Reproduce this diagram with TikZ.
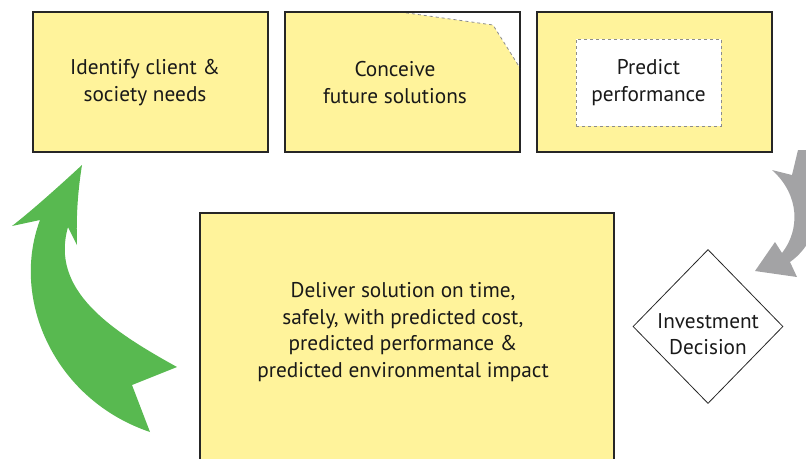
\documentclass[tikz,border=0pt]{standalone}
\usepackage{fontspec}
\setmainfont{PT Sans}
\usepackage{tikz}
\usetikzlibrary{
	arrows.meta,
	positioning,
	shapes.geometric
}
\usepackage{xcolor}
\definecolor{boxyellow}{RGB}{255,243,155}
\definecolor{loopgreen}{RGB}{88,185,80}
\definecolor{loopgray}{RGB}{163,163,165}

\begin{document}
\begin{tikzpicture}[
			x=1pt,y=-1pt,
			box/.style={rectangle,draw=black!85,line width=1.4pt,fill=boxyellow,minimum width=235pt,minimum height=140pt},
			txt/.style={align=center,font=\fontsize{21.3}{26.5}\selectfont,text=black!90},
			innerbox/.style={rectangle,draw=black!45,dashed,thick,fill=white,minimum width=145pt,minimum height=87pt},
			decision/.style={diamond,draw=black!85,thick,minimum width=150pt,minimum height=154pt,inner sep=0pt}
			]
			
			\useasboundingbox (0,0) rectangle (806,458);
			\clip (0,0) rectangle (806,458);
			
			% Top row
			\node[box] (needs) at (150.5,82) {};
			\node[txt] (needstext) at (145,82.5) {Identify client \&\\society needs};
			
			\node[box] (conceive) at (402.5,82) {};
			\fill[white] (400,12) -- (520,12) -- (520,68) -- (493,25) -- cycle;
			\draw[black!45,dashed,thick] (400,12) -- (493,25) -- (520,68);
			\draw[black!85,line width=1.4pt] (400,12) -| (520,68);
			\node[txt] (conceivetext) at (395,82.5) {Conceive\\future solutions};
			
			\node[box] (predict) at (654.5,82) {};
			\node[innerbox,txt] (performance) at (648.5,82.5) {Predict\\performance};
			
			% Delivery
			\node[box,minimum width=414pt,minimum height=270pt] (deliver) at (407,348) {};
			\node[txt] (delivertext) at (403,332) {Deliver solution on time,\\safely, with predicted cost,\\predicted performance \&\\predicted environmental impact};
			
			% Decision
			\node[decision] (invest) at (708,326.5) {};
			\node[txt] (investtext) at (708,334) {Investment\\Decision};
			
			% Loop arrows
			\fill[loopgreen] (82,165) .. controls (55,190) and (30,212) .. (12,226) -- (40,220)
				.. controls (10,300) and (55,400) .. (150,432) -- (132,385) -- (177,367)
				.. controls (110,330) and (50,290) .. (68,227) -- (77,245)
				.. controls (76,215) and (78,190) .. (82,165) -- cycle;
			
			\fill[loopgray] (772,170) -- (792,175) -- (798,150) -- (815,150) -- (815,230)
				.. controls (808,245) and (800,255) .. (790,262) -- (797,277) -- (755,271)
				-- (775,242) -- (782,253) .. controls (800,230) and (800,195) .. (772,170) -- cycle;
			
		\end{tikzpicture}
\end{document}
